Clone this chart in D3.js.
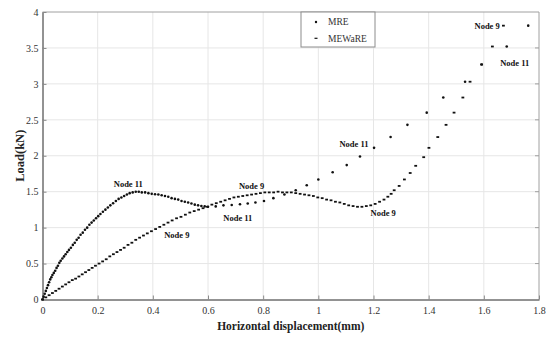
<!DOCTYPE html>
<html>
<head>
<meta charset="utf-8">
<script src="https://cdn.jsdelivr.net/npm/d3@7"></script>
<style>
  body { margin: 0; background: #fff; }
  svg { display: block; font-family: "Liberation Serif", "Times New Roman", serif; }
</style>
</head>
<body>
<svg width="549" height="338"></svg>
<script>
// Node 11 (MRE) load-displacement readings
var node11X = [0.000, 0.004, 0.008, 0.012, 0.016, 0.020, 0.024, 0.028, 0.032, 0.036, 0.041, 0.046,
    0.051, 0.056, 0.061, 0.066, 0.072, 0.078, 0.084, 0.090, 0.096, 0.103, 0.110, 0.117, 0.124, 0.131,
    0.138, 0.146, 0.154, 0.162, 0.170, 0.178, 0.186, 0.194, 0.202, 0.210, 0.219, 0.228, 0.237, 0.246,
    0.256, 0.266, 0.276, 0.286, 0.296, 0.306, 0.316, 0.327, 0.338, 0.349, 0.360, 0.372, 0.384, 0.396,
    0.408, 0.420, 0.432, 0.444, 0.456, 0.468, 0.480, 0.492, 0.504, 0.516, 0.528, 0.540, 0.552, 0.564,
    0.576, 0.588, 0.600, 0.628, 0.656, 0.686, 0.716, 0.744, 0.772, 0.803, 0.837, 0.877, 0.918, 0.958,
    1.000, 1.052, 1.103, 1.151, 1.202, 1.262, 1.323, 1.393, 1.453, 1.532, 1.592, 1.683, 1.761];
var node11Y = [0.00, 0.04, 0.08, 0.12, 0.16, 0.20, 0.24, 0.28, 0.31, 0.34, 0.37, 0.40,
    0.44, 0.47, 0.51, 0.54, 0.57, 0.60, 0.63, 0.66, 0.69, 0.72, 0.76, 0.79, 0.83, 0.86,
    0.90, 0.93, 0.97, 1.00, 1.04, 1.07, 1.10, 1.13, 1.16, 1.19, 1.22, 1.25, 1.28, 1.31,
    1.34, 1.37, 1.40, 1.42, 1.44, 1.46, 1.48, 1.49, 1.50, 1.50, 1.49, 1.49, 1.48, 1.47,
    1.465, 1.46, 1.45, 1.44, 1.43, 1.41, 1.40, 1.39, 1.37, 1.36, 1.35, 1.335, 1.32, 1.31,
    1.30, 1.295, 1.29, 1.295, 1.31, 1.315, 1.325, 1.335, 1.35, 1.37, 1.41, 1.46, 1.52, 1.59,
    1.67, 1.77, 1.87, 1.99, 2.11, 2.26, 2.43, 2.60, 2.81, 3.03, 3.27, 3.52, 3.81];

// Node 9 (MEWaRE) load-displacement readings
var node9X = [0.000, 0.012, 0.024, 0.036, 0.048, 0.060, 0.072, 0.084, 0.096, 0.108, 0.120, 0.132,
    0.144, 0.156, 0.168, 0.180, 0.192, 0.205, 0.218, 0.231, 0.244, 0.257, 0.270, 0.283, 0.296, 0.310,
    0.324, 0.338, 0.352, 0.366, 0.380, 0.395, 0.410, 0.425, 0.440, 0.455, 0.470, 0.486, 0.502, 0.518,
    0.534, 0.550, 0.566, 0.582, 0.598, 0.614, 0.630, 0.646, 0.662, 0.678, 0.694, 0.710, 0.726, 0.742,
    0.758, 0.774, 0.790, 0.806, 0.822, 0.838, 0.854, 0.870, 0.886, 0.902, 0.918, 0.934, 0.950, 0.966,
    0.982, 0.998, 1.014, 1.030, 1.046, 1.062, 1.078, 1.094, 1.110, 1.126, 1.142, 1.158, 1.174, 1.190,
    1.206, 1.222, 1.238, 1.252, 1.264, 1.275, 1.293, 1.312, 1.333, 1.353, 1.382, 1.401, 1.433, 1.463,
    1.492, 1.524, 1.550, 1.592, 1.631, 1.671];
var node9Y = [0.00, 0.03, 0.06, 0.09, 0.12, 0.15, 0.18, 0.21, 0.24, 0.27, 0.29, 0.32,
    0.35, 0.38, 0.41, 0.44, 0.47, 0.50, 0.53, 0.56, 0.60, 0.63, 0.66, 0.69, 0.72, 0.76,
    0.79, 0.83, 0.86, 0.89, 0.92, 0.95, 0.98, 1.01, 1.04, 1.07, 1.10, 1.13, 1.15, 1.18,
    1.21, 1.23, 1.25, 1.27, 1.29, 1.32, 1.34, 1.36, 1.38, 1.40, 1.42, 1.43, 1.44, 1.45,
    1.46, 1.47, 1.48, 1.49, 1.49, 1.49, 1.50, 1.49, 1.49, 1.49, 1.48, 1.47, 1.46, 1.45,
    1.44, 1.42, 1.41, 1.39, 1.38, 1.36, 1.35, 1.33, 1.31, 1.30, 1.29, 1.29, 1.30, 1.31,
    1.33, 1.36, 1.39, 1.43, 1.47, 1.52, 1.58, 1.67, 1.76, 1.86, 1.98, 2.11, 2.26, 2.43,
    2.60, 2.81, 3.03, 3.27, 3.52, 3.81];

var seriesNames = ["MRE", "MEWaRE"];
var xTicks = [0, 0.2, 0.4, 0.6, 0.8, 1, 1.2, 1.4, 1.6, 1.8];
var yTicks = [0, 0.5, 1, 1.5, 2, 2.5, 3, 3.5, 4];

// node annotations, anchored in data units (text centre x, baseline y)
var noteText = ["Node 11", "Node 9", "Node 9", "Node 11", "Node 11", "Node 9", "Node 9", "Node 11"];
var noteX = [0.311, 0.487, 0.758, 0.708, 1.129, 1.235, 1.612, 1.712];
var noteY = [1.565, 0.849, 1.537, 1.092, 2.115, 1.162, 3.770, 3.249];

var svg = d3.select('svg');
var padding = {t: 12, r: 10, b: 38.5, l: 42.5};
var svgWidth = +svg.attr('width');
var svgHeight = +svg.attr('height');
var x0 = padding.l, x1 = svgWidth - padding.r;
var y0 = svgHeight - padding.b, y1 = padding.t;

var xScale = d3.scaleLinear().domain([0, 1.8]).range([x0, x1]);
var yScale = d3.scaleLinear().domain([0, 4]).range([y0, y1]);

// grid
var gridG = svg.append('g').attr('class', 'grid');
gridG.selectAll('.gx').data(xTicks.slice(1, -1)).enter().append('line')
    .attr('x1', d => xScale(d)).attr('x2', d => xScale(d))
    .attr('y1', y0).attr('y2', y1)
    .attr('stroke', '#e6e6e6').attr('stroke-width', 1);
gridG.selectAll('.gy').data(yTicks.slice(1, -1)).enter().append('line')
    .attr('x1', x0).attr('x2', x1)
    .attr('y1', d => yScale(d)).attr('y2', d => yScale(d))
    .attr('stroke', '#e6e6e6').attr('stroke-width', 1);

// box top / right
svg.append('line').attr('x1', x0).attr('x2', x1).attr('y1', y1).attr('y2', y1)
    .attr('stroke', '#a0a0a0');
svg.append('line').attr('x1', x1).attr('x2', x1).attr('y1', y1).attr('y2', y0)
    .attr('stroke', '#a0a0a0');

// axes
var xAxisG = svg.append('g')
    .attr('transform', 'translate(0,' + y0 + ')')
    .call(d3.axisBottom(xScale).tickValues(xTicks).tickSizeInner(-4).tickSizeOuter(0)
        .tickFormat(d3.format('')).tickPadding(7));
var yAxisG = svg.append('g')
    .attr('transform', 'translate(' + x0 + ',0)')
    .call(d3.axisLeft(yScale).tickValues(yTicks).tickSizeInner(-4).tickSizeOuter(0)
        .tickFormat(d3.format('')).tickPadding(4));
[xAxisG, yAxisG].forEach(function(g) {
    g.select('.domain').attr('stroke', '#262626');
    g.selectAll('.tick line').attr('stroke', '#8a8a8a');
    g.selectAll('.tick text').attr('fill', '#333')
        .style('font-size', '10px').style('font-family', '"Liberation Serif", serif');
});

// right-side ticks (matlab box style)
svg.selectAll('.rt').data(yTicks.slice(1, -1)).enter().append('line')
    .attr('x1', x1 - 4).attr('x2', x1)
    .attr('y1', d => yScale(d)).attr('y2', d => yScale(d))
    .attr('stroke', '#a0a0a0');

// axis titles
svg.append('text')
    .attr('x', (x0 + x1) / 2).attr('y', 330)
    .attr('text-anchor', 'middle')
    .style('font-size', '11.5px').style('font-weight', 'bold').attr('fill', '#222')
    .text('Horizontal displacement(mm)');
svg.append('text')
    .attr('transform', 'translate(' + 24 + ',' + ((y0 + y1) / 2) + ') rotate(-90)')
    .attr('text-anchor', 'middle')
    .style('font-size', '12.5px').style('font-weight', 'bold').attr('fill', '#222')
    .text('Load(kN)');

// data markers
var node11 = node11X.map(function(v, i) { return {x: v, y: node11Y[i]}; });
var node9 = node9X.map(function(v, i) { return {x: v, y: node9Y[i]}; });

svg.append('g').selectAll('circle').data(node11).enter().append('circle')
    .attr('cx', d => xScale(d.x)).attr('cy', d => yScale(d.y))
    .attr('r', 1.3).attr('fill', '#111');

svg.append('g').selectAll('rect').data(node9).enter().append('rect')
    .attr('x', d => xScale(d.x) - 1.4).attr('y', d => yScale(d.y) - 0.9)
    .attr('width', 2.8).attr('height', 1.8).attr('fill', '#111');

// annotations
svg.append('g').selectAll('text').data(noteText).enter().append('text')
    .attr('x', (d, i) => xScale(noteX[i])).attr('y', (d, i) => yScale(noteY[i]))
    .attr('text-anchor', 'middle')
    .style('font-size', '8.5px').style('font-weight', 'bold').attr('fill', '#111')
    .text(d => d);

// legend
var legendG = svg.append('g').attr('transform', 'translate(301,12)');
legendG.append('rect').attr('width', 74).attr('height', 35)
    .attr('fill', '#fff').attr('stroke', '#8c8c8c').attr('stroke-width', 1);
legendG.append('circle').attr('cx', 15).attr('cy', 10).attr('r', 1.2).attr('fill', '#111');
legendG.append('rect').attr('x', 13.5).attr('y', 25.7).attr('width', 3).attr('height', 1.2).attr('fill', '#111');
legendG.selectAll('.lt').data(seriesNames).enter().append('text')
    .attr('x', 27).attr('y', (d, i) => 13 + i * 16.5)
    .style('font-size', '9.5px').attr('fill', '#333')
    .text(d => d);
</script>
</body>
</html>
